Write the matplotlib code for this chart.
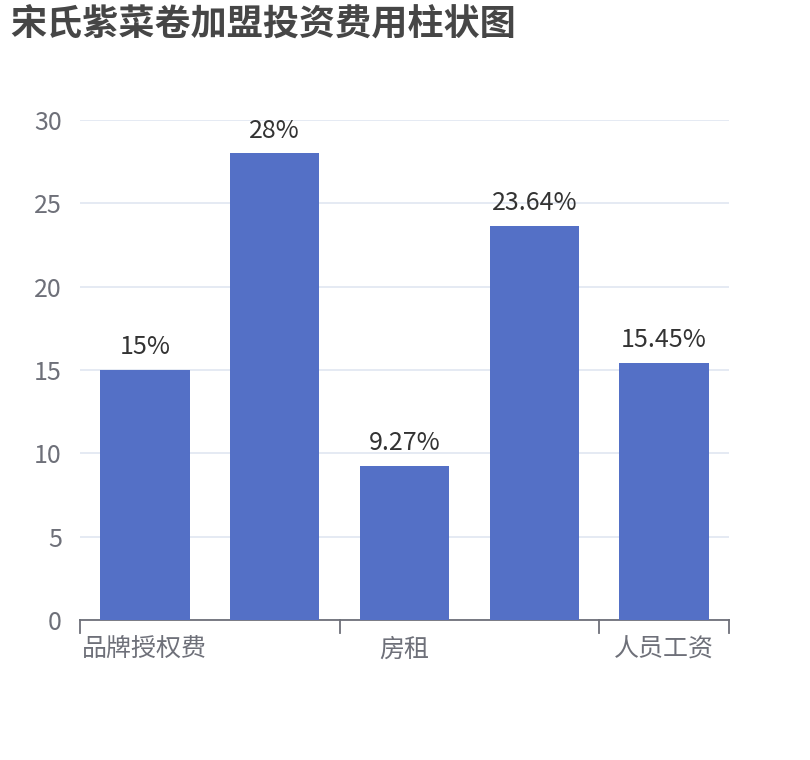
import numpy as np
import matplotlib
matplotlib.use('Agg')
import matplotlib.pyplot as plt

plt.rcParams['font.family'] = ['Noto Sans CJK SC', 'DejaVu Sans']

# data
categories = ['品牌授权费', '装修费用', '房租', '设备采购', '人员工资']
values = [15, 28, 9.27, 23.64, 15.45]
value_labels = ['15%', '28%', '9.27%', '23.64%', '15.45%']
yticks = [0, 5, 10, 15, 20, 25, 30]

bar_color = '#5470c6'
axis_color = '#6E7079'
grid_color = '#E0E6F1'

fig = plt.figure(figsize=(8.1, 7.6), dpi=100)
ax = fig.add_axes([80/810, 140/760, 649/810, 500/760])

x = np.arange(len(categories))
bars = ax.bar(x, values, width=0.69, color=bar_color, zorder=3)

for b, lab in zip(bars, value_labels):
    ax.annotate(lab, (b.get_x() + b.get_width()/2, b.get_height()),
                xytext=(0, 7), textcoords='offset points',
                ha='center', va='bottom', fontsize=18, color='#333333')

ax.set_xlim(-0.5, len(categories) - 0.5)
ax.set_ylim(0, 30)
ax.set_yticks(yticks)
ax.set_yticklabels([str(t) for t in yticks])
ax.yaxis.grid(True, color=grid_color, linewidth=1.2, zorder=0)
ax.tick_params(axis='y', length=0, pad=13, labelsize=18, labelcolor=axis_color)

# category labels shown every other one, boundary ticks like echarts
ax.set_xticks(x[::2])
ax.set_xticklabels(categories[::2])
ax.tick_params(axis='x', length=0, pad=12, labelsize=18, labelcolor=axis_color)
for t in [-0.5, 1.5, 3.5, 4.5]:
    ax.plot([t, t], [0, -0.025], transform=ax.get_xaxis_transform(),
            color=axis_color, lw=1.3, clip_on=False)

for s in ['top', 'right', 'left']:
    ax.spines[s].set_visible(False)
ax.spines['bottom'].set_color(axis_color)
ax.spines['bottom'].set_linewidth(1.3)

fig.text(10/810, 1 - 6/760, '宋氏紫菜卷加盟投资费用柱状图', ha='left', va='top',
         fontsize=26, fontweight='bold', color='#464646')

fig.savefig('out.png', dpi=100)
